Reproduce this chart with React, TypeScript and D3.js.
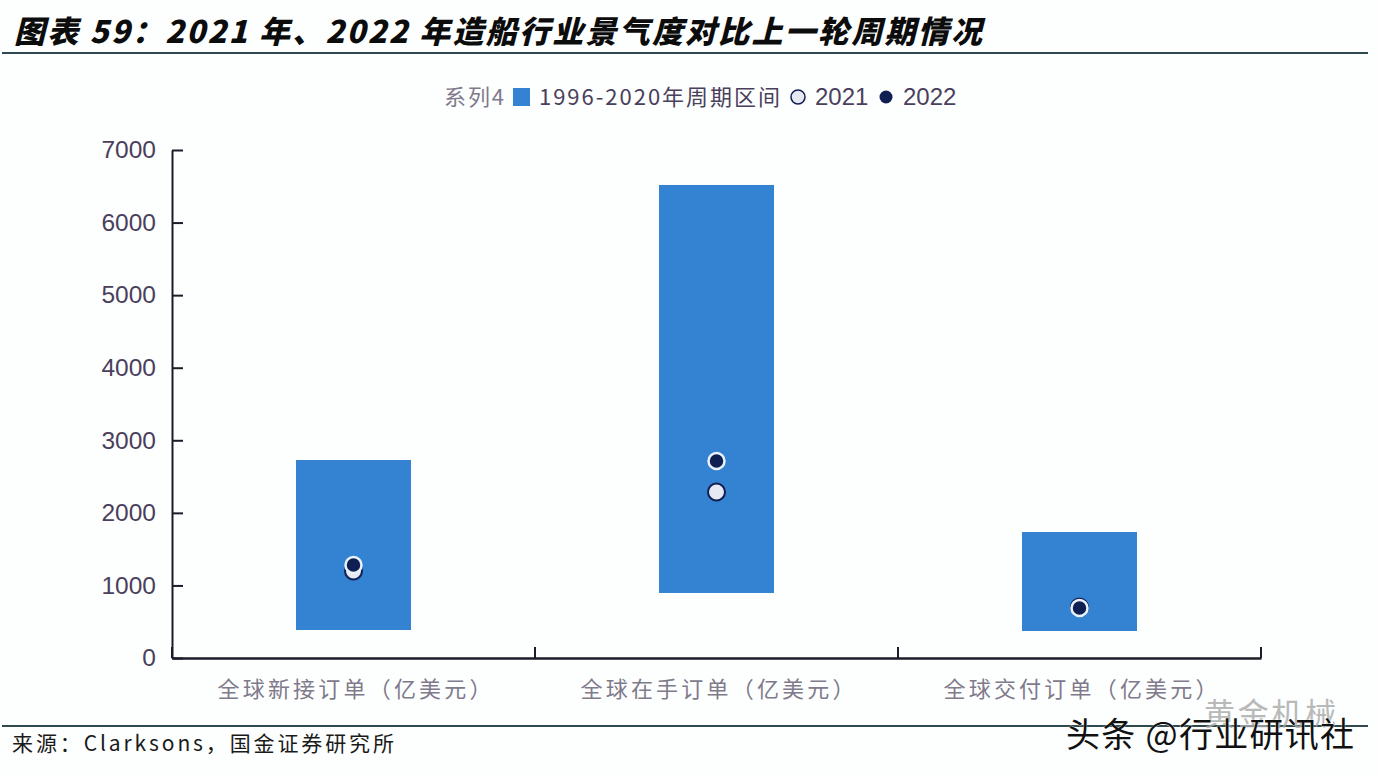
import React, { useRef, useEffect } from "react";
import * as d3 from "d3";

const categories = ["全球新接订单（亿美元）", "全球在手订单（亿美元）", "全球交付订单（亿美元）"];
const rangeLow = [386, 896, 372];
const rangeHigh = [2728, 6518, 1736];
const values2021 = [1199, 2287, 703];
const values2022 = [1281, 2715, 690];
const yTicks = [0, 1000, 2000, 3000, 4000, 5000, 6000, 7000];

const CJK = "'Noto Sans CJK SC', 'Liberation Sans', sans-serif";
const LATIN = "'Liberation Sans', 'Noto Sans CJK SC', sans-serif";
const BLUE = "#3482d2";
const NAVY = "#101f52";
const PALE = "#e6e9f4";
const LABEL = "#7f7a8c";
const TICK = "#4a3f5c";

export default function App() {
  const ref = useRef<SVGSVGElement>(null);

  useEffect(() => {
    const svg = d3.select(ref.current);
    svg.selectAll("*").remove();

    const x = d3.scaleBand().domain(categories).range([172, 1261]);
    const y = d3.scaleLinear().domain([0, 7000]).range([658, 150]);
    const barWidth = 115;

    // header
    svg.append("text")
      .attr("transform", "translate(14,43) skewX(-14)")
      .attr("font-family", CJK)
      .attr("font-weight", 900)
      .attr("font-size", 31)
      .attr("fill", "#0c0c0c")
      .attr("textLength", 968)
      .text("图表 59：2021 年、2022 年造船行业景气度对比上一轮周期情况");
    svg.append("line").attr("x1", 2).attr("x2", 1368).attr("y1", 53).attr("y2", 53)
      .attr("stroke", "#2f4a4e").attr("stroke-width", 2);

    // legend
    const legendFont = (s: any) => s.attr("font-size", 24).attr("y", 105);
    legendFont(svg.append("text")).attr("x", 444).attr("font-family", CJK).attr("font-size", 22)
      .attr("fill", LABEL).attr("textLength", 60).text("系列4");
    svg.append("rect").attr("x", 513).attr("y", 88).attr("width", 17).attr("height", 18).attr("fill", BLUE);
    legendFont(svg.append("text")).attr("x", 539).attr("font-family", CJK).attr("font-size", 22)
      .attr("fill", TICK).attr("textLength", 241).text("1996-2020年周期区间");
    svg.append("circle").attr("cx", 798).attr("cy", 97).attr("r", 7)
      .attr("fill", PALE).attr("stroke", NAVY).attr("stroke-width", 1.5);
    legendFont(svg.append("text")).attr("x", 815).attr("font-family", LATIN).attr("fill", TICK).text("2021");
    svg.append("circle").attr("cx", 886).attr("cy", 97).attr("r", 6.5).attr("fill", NAVY);
    legendFont(svg.append("text")).attr("x", 903).attr("font-family", LATIN).attr("fill", TICK).text("2022");

    // bars
    svg.append("g").selectAll("rect").data(categories).join("rect")
      .attr("x", (d) => (x(d) as number) + x.bandwidth() / 2 - barWidth / 2)
      .attr("width", barWidth)
      .attr("y", (_, i) => y(rangeHigh[i]))
      .attr("height", (_, i) => y(rangeLow[i]) - y(rangeHigh[i]))
      .attr("fill", BLUE);

    // points
    const cx = (d: string) => (x(d) as number) + x.bandwidth() / 2;
    svg.append("g").selectAll("circle").data(categories).join("circle")
      .attr("cx", cx)
      .attr("cy", (_, i) => y(values2021[i]))
      .attr("r", 8.5)
      .attr("fill", PALE)
      .attr("stroke", NAVY)
      .attr("stroke-width", 2);
    svg.append("g").selectAll("circle").data(categories).join("circle")
      .attr("cx", cx)
      .attr("cy", (_, i) => y(values2022[i]))
      .attr("r", 8)
      .attr("fill", NAVY)
      .attr("stroke", "#e8f2fb")
      .attr("stroke-width", 2.5);

    // axes
    const yAxis = svg.append("g").attr("transform", "translate(172,0)")
      .call(d3.axisLeft(y).tickValues(yTicks).tickSize(11).tickSizeOuter(0).tickFormat(d3.format("d")) as any);
    yAxis.selectAll("path,line").attr("stroke", "#1c1c28").attr("stroke-width", 2);
    yAxis.selectAll("line").attr("x1", 0).attr("x2", 11);
    yAxis.selectAll("text")
      .attr("x", -16)
      .attr("font-family", LATIN)
      .attr("font-size", 24.5)
      .attr("fill", TICK);

    const xAxis = svg.append("g").attr("transform", "translate(0,658)")
      .call(d3.axisBottom(x).tickSize(0) as any);
    xAxis.select("path").attr("stroke", "#1c1c28").attr("stroke-width", 2.5);
    xAxis.selectAll("text")
      .attr("y", 23)
      .attr("font-family", CJK)
      .attr("font-size", 22)
      .attr("fill", LABEL)
      .attr("dx", 1)
      .attr("textLength", 274);
    xAxis.selectAll(".sep").data(d3.range(categories.length + 1)).join("line")
      .attr("class", "sep")
      .attr("x1", (i) => 172 + i * x.bandwidth())
      .attr("x2", (i) => 172 + i * x.bandwidth())
      .attr("y1", -11).attr("y2", 0)
      .attr("stroke", "#1c1c28").attr("stroke-width", 2);

    // footer
    svg.append("line").attr("x1", 2).attr("x2", 1368).attr("y1", 726).attr("y2", 726)
      .attr("stroke", "#2f4a4e").attr("stroke-width", 2);
    svg.append("text")
      .attr("x", 12).attr("y", 751)
      .attr("font-family", CJK)
      .attr("font-size", 21)
      .attr("fill", "#1a1a1a")
      .attr("textLength", 382)
      .text("来源：Clarksons，国金证券研究所");

    // watermarks
    svg.append("text").attr("x", 1204).attr("y", 725)
      .attr("font-family", CJK).attr("font-size", 31).attr("fill", "#a8a8a8").attr("opacity", 0.8)
      .attr("textLength", 132).text("黄金机械");
    svg.append("text").attr("x", 1066).attr("y", 747)
      .attr("font-family", CJK).attr("font-size", 34).attr("fill", "#111")
      .attr("stroke", "#fff").attr("stroke-width", 0.6).attr("paint-order", "stroke")
      .attr("textLength", 288).text("头条 @行业研讯社");
  }, []);

  return (
    <svg
      ref={ref}
      width={1378}
      height={776}
      style={{ position: "absolute", left: 0, top: 0, background: "#fdfefe" }}
    />
  );
}
